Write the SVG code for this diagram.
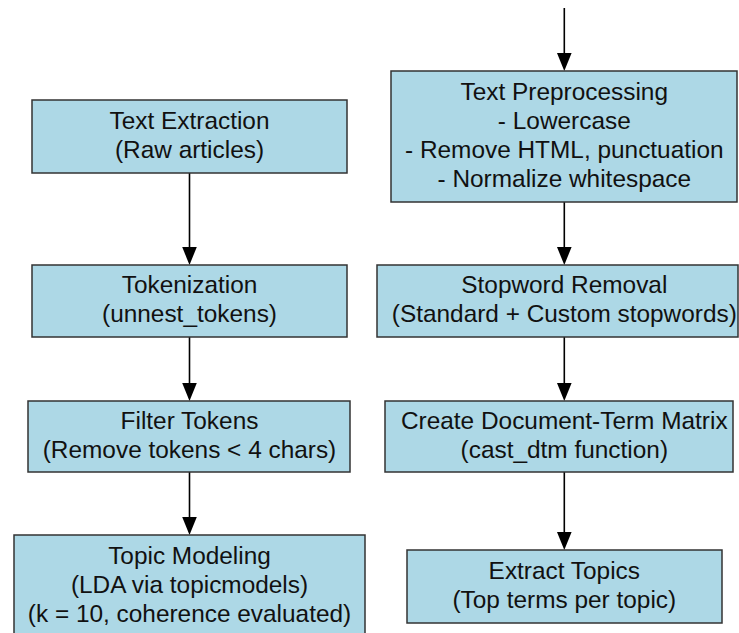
<svg xmlns="http://www.w3.org/2000/svg" width="739" height="633" viewBox="0 0 739 633">
<defs>
<style>
.box{fill:#ADD8E6;stroke:#333;stroke-width:1.5}
.t{font-family:"Liberation Sans",Arial,sans-serif;font-size:24.4px;fill:#111;text-anchor:middle}
.c{stroke:#000;stroke-width:1.6;fill:none}
.h{fill:#000}
</style>
</defs>
<rect width="739" height="633" fill="#fff"/>
<g id="connectors">
<line class="c" x1="564.3" y1="8" x2="564.3" y2="55"/>
<path class="h" d="M557,53 L571.6,53 L564.3,71 Z"/>
<line class="c" x1="564.3" y1="202" x2="564.3" y2="249"/>
<path class="h" d="M557,247 L571.6,247 L564.3,265 Z"/>
<line class="c" x1="564.3" y1="337" x2="564.3" y2="385"/>
<path class="h" d="M557,383 L571.6,383 L564.3,401 Z"/>
<line class="c" x1="564.3" y1="472" x2="564.3" y2="534"/>
<path class="h" d="M557,532 L571.6,532 L564.3,550 Z"/>
<line class="c" x1="189.5" y1="173" x2="189.5" y2="249"/>
<path class="h" d="M182.2,247 L196.8,247 L189.5,265 Z"/>
<line class="c" x1="189.5" y1="337" x2="189.5" y2="385"/>
<path class="h" d="M182.2,383 L196.8,383 L189.5,401 Z"/>
<line class="c" x1="189.5" y1="472" x2="189.5" y2="519"/>
<path class="h" d="M182.2,517 L196.8,517 L189.5,535 Z"/>
</g>
<g id="text-extraction">
<rect class="box" x="32" y="100" width="315" height="73"/>
<text class="t" x="189.5" y="129">Text Extraction</text>
<text class="t" x="189.5" y="158">(Raw articles)</text>
</g>
<g id="tokenization">
<rect class="box" x="32" y="265" width="315" height="72"/>
<text class="t" x="189.5" y="293">Tokenization</text>
<text class="t" x="189.5" y="322">(unnest_tokens)</text>
</g>
<g id="filter-tokens">
<rect class="box" x="28" y="401" width="322" height="71"/>
<text class="t" x="189.5" y="429">Filter Tokens</text>
<text class="t" x="189.5" y="458">(Remove tokens &lt; 4 chars)</text>
</g>
<g id="topic-modeling">
<rect class="box" x="14" y="535" width="351" height="110"/>
<text class="t" x="189.5" y="564">Topic Modeling</text>
<text class="t" x="189.5" y="593">(LDA via topicmodels)</text>
<text class="t" x="189.5" y="622">(k = 10, coherence evaluated)</text>
</g>
<g id="text-preprocessing">
<rect class="box" x="391" y="71" width="346" height="131"/>
<text class="t" x="564.3" y="100">Text Preprocessing</text>
<text class="t" x="564.3" y="129">- Lowercase</text>
<text class="t" x="564.3" y="158">- Remove HTML, punctuation</text>
<text class="t" x="564.3" y="187">- Normalize whitespace</text>
</g>
<g id="stopword-removal">
<rect class="box" x="377" y="265" width="361" height="72"/>
<text class="t" x="564.3" y="293">Stopword Removal</text>
<text class="t" x="564.3" y="322">(Standard + Custom stopwords)</text>
</g>
<g id="create-dtm">
<rect class="box" x="385" y="401" width="348" height="71"/>
<text class="t" x="564.3" y="429">Create Document-Term Matrix</text>
<text class="t" x="564.3" y="458">(cast_dtm function)</text>
</g>
<g id="extract-topics">
<rect class="box" x="407" y="550" width="315" height="73"/>
<text class="t" x="564.3" y="579">Extract Topics</text>
<text class="t" x="564.3" y="608">(Top terms per topic)</text>
</g>
</svg>
